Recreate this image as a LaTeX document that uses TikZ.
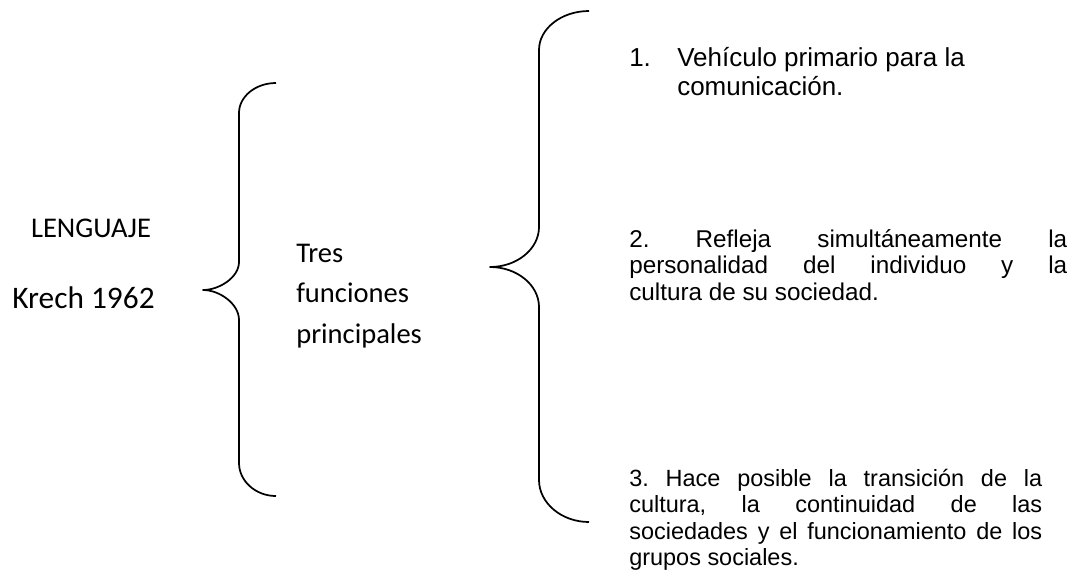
\documentclass[tikz,border=0pt]{standalone}
\usepackage{fontspec}
\newfontfamily\calibrifont{Carlito}
\newfontfamily\arialfont{Liberation Sans}
\usepackage{tikz}
\hbadness=10000
\frenchspacing

\begin{document}
\begin{tikzpicture}[x=0.75pt,y=-0.75pt,
    brace/.style={black,line width=1.3pt,line join=round},
    lefttext/.style={font=\calibrifont\fontsize{21.4}{30.4}\selectfont,
        inner sep=0pt,anchor=base},
    bigitem/.style={font=\arialfont\fontsize{19.5}{22}\selectfont,
        inner sep=0pt,anchor=base west},
    item/.style={font=\arialfont\fontsize{17.6}{19.9}\selectfont,
        inner sep=0pt,anchor=base west}]
    \useasboundingbox (0,0) rectangle (1073,579);

    \node[lefttext] (leng) at (91,237) {LENGUAJE};
    \node[lefttext,font=\calibrifont\fontsize{23.5}{28}\selectfont] (krech) at (83.5,308) {Krech 1962};
    \node[lefttext,anchor=base west] (tres) at (296,262)
        {\parbox[t]{120pt}{Tres\\funciones\\principales}};

    % llave izquierda
    \draw[brace] (276,83) .. controls (255.6,83) and (239,96.5) .. (239,113)
        -- (239,262) .. controls (239,277.4) and (219.2,290) .. (203,290)
        .. controls (219.2,290) and (239,303.5) .. (239,320)
        -- (239,463) .. controls (239,481) and (255.6,496) .. (276,496);

    % llave derecha
    \draw[brace] (589,11) .. controls (561.5,11) and (539,28.5) .. (539,50)
        -- (539,227) .. controls (539,249) and (517,267) .. (490,267)
        .. controls (517,267) and (539,285) .. (539,307)
        -- (539,480) .. controls (539,503) and (561.5,522) .. (589,522);

    \node[bigitem] (f1) at (629,66) {\parbox[t]{300pt}{\hangindent=36pt\hangafter=1
        \makebox[36pt][l]{1.}Vehículo primario para la\\comunicación.}};
    \node[item,font=\arialfont\fontsize{18.2}{19.9}\selectfont] (f2) at (629,247)
        {\parbox[t]{328.5pt}{2. Refleja simultáneamente la\linebreak
        personalidad del individuo y la\linebreak cultura de su sociedad.}};
    \node[item] (f3) at (629,486) {\parbox[t]{309.75pt}{3. Hace posible la transición de la\linebreak
        cultura, la continuidad de las\linebreak sociedades y el funcionamiento de los\linebreak
        grupos sociales.}};
\end{tikzpicture}
\end{document}
